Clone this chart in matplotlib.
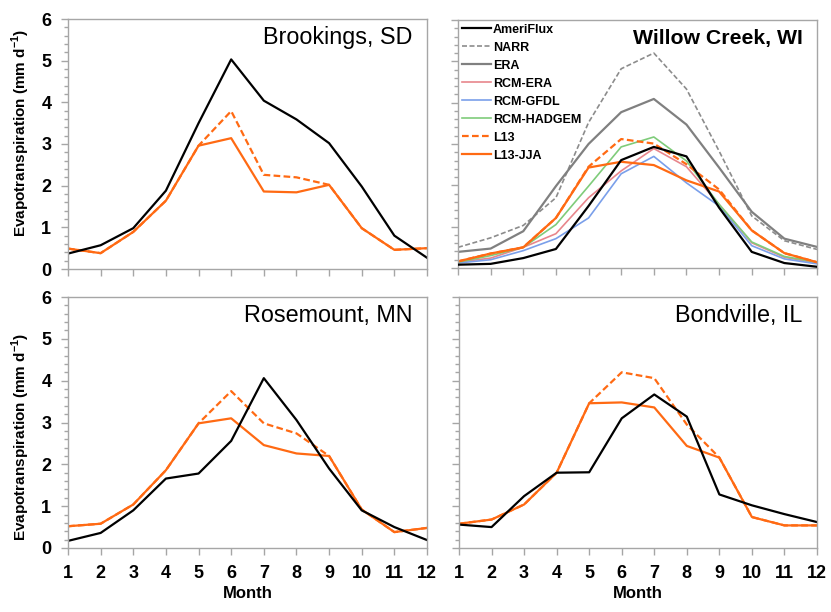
import matplotlib
matplotlib.use("Agg")
import matplotlib.pyplot as plt
from matplotlib.ticker import MultipleLocator

plt.rcParams['font.family'] = ['Liberation Sans', 'DejaVu Sans']
plt.rcParams['mathtext.fontset'] = 'custom'
plt.rcParams['mathtext.rm'] = 'Liberation Sans'
plt.rcParams['mathtext.bf'] = 'Liberation Sans:bold'

months = list(range(1, 13))

# Brookings, SD
brk_ameriflux = [0.37, 0.57, 0.98, 1.88, 3.50, 5.03, 4.04, 3.59, 3.02, 1.98, 0.80, 0.27]
brk_l13 = [0.49, 0.38, 0.89, 1.64, 2.96, 3.79, 2.26, 2.20, 2.02, 0.98, 0.46, 0.50]
brk_l13jja = [0.49, 0.38, 0.89, 1.64, 2.96, 3.14, 1.86, 1.84, 2.02, 0.98, 0.46, 0.50]

# Willow Creek, WI
wc_ameriflux = [0.08, 0.10, 0.24, 0.46, 1.50, 2.61, 2.93, 2.70, 1.46, 0.39, 0.12, 0.03]
wc_narr = [0.50, 0.73, 1.03, 1.70, 3.52, 4.82, 5.20, 4.33, 2.83, 1.26, 0.66, 0.45]
wc_era = [0.39, 0.47, 0.89, 1.98, 3.00, 3.77, 4.09, 3.47, 2.43, 1.36, 0.71, 0.51]
wc_rcm_era = [0.14, 0.24, 0.50, 0.83, 1.70, 2.35, 2.89, 2.45, 1.54, 0.61, 0.26, 0.12]
wc_rcm_gfdl = [0.12, 0.20, 0.42, 0.71, 1.21, 2.28, 2.70, 2.06, 1.50, 0.54, 0.22, 0.10]
wc_rcm_hadgem = [0.14, 0.30, 0.50, 1.05, 1.98, 2.93, 3.17, 2.59, 1.54, 0.63, 0.28, 0.14]
wc_l13 = [0.16, 0.35, 0.50, 1.21, 2.45, 3.12, 3.01, 2.51, 1.90, 0.91, 0.36, 0.14]
wc_l13jja = [0.16, 0.35, 0.50, 1.21, 2.43, 2.57, 2.49, 2.12, 1.85, 0.91, 0.36, 0.14]

# Rosemount, MN
rm_ameriflux = [0.17, 0.36, 0.90, 1.66, 1.78, 2.56, 4.06, 3.06, 1.90, 0.90, 0.50, 0.19]
rm_l13 = [0.52, 0.58, 1.04, 1.86, 2.98, 3.75, 2.98, 2.74, 2.20, 0.92, 0.38, 0.48]
rm_l13jja = [0.52, 0.58, 1.04, 1.86, 2.98, 3.10, 2.46, 2.26, 2.20, 0.92, 0.38, 0.48]

# Bondville, IL
bv_ameriflux = [0.56, 0.50, 1.24, 1.80, 1.81, 3.10, 3.67, 3.14, 1.28, 1.02, 0.81, 0.62]
bv_l13 = [0.58, 0.68, 1.04, 1.80, 3.46, 4.20, 4.06, 2.95, 2.16, 0.74, 0.54, 0.54]
bv_l13jja = [0.58, 0.68, 1.04, 1.80, 3.46, 3.48, 3.36, 2.44, 2.16, 0.74, 0.54, 0.54]

titles = ["Brookings, SD", "Willow Creek, WI", "Rosemount, MN", "Bondville, IL"]

ORANGE = '#FF6A13'
SPINE = '#A6A6A6'

W, H = 831, 612
fig = plt.figure(figsize=(W / 100, H / 100), dpi=100)

def add_ax(l, r, t, b):
    return fig.add_axes([l / W, 1 - b / H, (r - l) / W, (b - t) / H])

axes = [add_ax(68, 427, 19, 269), add_ax(458, 817, 20, 268),
        add_ax(68, 427, 297, 548), add_ax(459, 817, 297, 548)]

title_style = [(16.8, 'normal'), (15.3, 'bold'), (16.8, 'normal'), (16.8, 'normal')]

for i, ax in enumerate(axes):
    ax.set_xlim(1, 12)
    ax.set_ylim(0, 6)
    ax.set_xticks(months)
    ax.yaxis.set_major_locator(MultipleLocator(1))
    ax.yaxis.set_minor_locator(MultipleLocator(0.2))
    for s in ax.spines.values():
        s.set_color(SPINE)
        s.set_linewidth(1.0)
    ax.tick_params(axis='both', which='major', direction='out', length=5, width=1,
                   color=SPINE, labelsize=13, pad=7)
    ax.tick_params(axis='y', which='minor', direction='out', length=3, width=1, color=SPINE)
    for lab in ax.get_xticklabels() + ax.get_yticklabels():
        lab.set_fontweight('bold')
    if i in (0, 1):
        ax.tick_params(axis='x', labelbottom=False)
    else:
        ax.set_xlabel('Month', fontsize=12, fontweight='bold', labelpad=3)
    if i in (1, 3):
        ax.tick_params(axis='y', labelleft=False)
    else:
        ax.set_ylabel(r'Evapotranspiration (mm d$^{\mathbf{-1}}$)', fontsize=11,
                      fontweight='bold')
    fs, fw = title_style[i]
    ax.text(0.96, 0.925, titles[i], transform=ax.transAxes, ha='right', va='center',
            fontsize=fs, fontweight=fw)

axes[0].yaxis.set_label_coords(-0.10, 0.546)
axes[2].yaxis.set_label_coords(-0.10, 0.444)

lw_main = 1.6
lw_thin = 1.2

def site(ax, amf, l13, jja):
    ax.plot(months, l13, color=ORANGE, lw=lw_main, ls=(0, (3, 1.5)))
    ax.plot(months, jja, color=ORANGE, lw=lw_main)
    ax.plot(months, amf, color='black', lw=lw_main)

site(axes[0], brk_ameriflux, brk_l13, brk_l13jja)
site(axes[2], rm_ameriflux, rm_l13, rm_l13jja)
site(axes[3], bv_ameriflux, bv_l13, bv_l13jja)

ax = axes[1]
ax.plot(months, wc_ameriflux, color='black', lw=lw_main, label='AmeriFlux', zorder=5)
ax.plot(months, wc_narr, color='#8C8C8C', lw=lw_thin, ls=(0, (3, 1.5)), label='NARR')
ax.plot(months, wc_era, color='#808080', lw=lw_main, label='ERA')
ax.plot(months, wc_rcm_era, color='#E8868C', lw=lw_thin, label='RCM-ERA')
ax.plot(months, wc_rcm_gfdl, color='#7A9FEA', lw=lw_thin, label='RCM-GFDL')
ax.plot(months, wc_rcm_hadgem, color='#7FCC7A', lw=lw_thin, label='RCM-HADGEM')
ax.plot(months, wc_l13, color=ORANGE, lw=lw_main, ls=(0, (3, 1.5)), label='L13')
ax.plot(months, wc_l13jja, color=ORANGE, lw=lw_main, label='L13-JJA')
leg = ax.legend(loc='upper left', bbox_to_anchor=(0.0, 1.0), frameon=False,
                prop={'size': 9, 'weight': 'bold'}, handlelength=2.3,
                handletextpad=0.2, labelspacing=0.48, borderaxespad=0.0,
                borderpad=0.3)

fig.savefig('out.png', dpi=100)
